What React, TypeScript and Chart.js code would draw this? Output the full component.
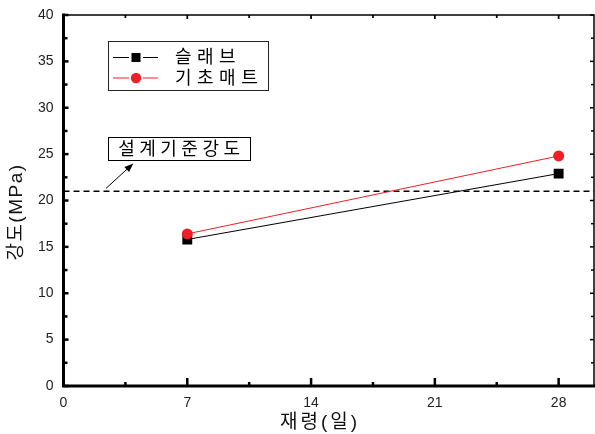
import React, { useEffect, useRef } from "react";
import { Chart, registerables } from "chart.js";

Chart.register(...registerables);

// ---- data ----
const ageDays = [7, 28];
const slabStrength = [15.8, 22.9];
const matStrength = [16.4, 24.8];
const designStrength = 21;
const designLineX = [0, 30];
const xTickValues = [0, 7, 14, 21, 28];
const xMinorValues = [3.5, 10.5, 17.5, 24.5];
const yTickStep = 5;
const seriesLabels = ["슬래브", "기초매트"];
const designLabel = "설계기준강도";
const xTitle = "재령(일)";
const yTitle = "강도(MPa)";

const KFONT = '"Liberation Sans", "Noto Sans CJK KR", sans-serif';
const RED = "#ee1f26";

const overlayPlugin = {
  id: "overlay",
  afterDraw(chart: any) {
    const ctx: CanvasRenderingContext2D = chart.ctx;
    const xs = chart.scales.x;
    const ys = chart.scales.y;
    const { left, right, top, bottom } = chart.chartArea;
    ctx.save();

    // frame
    ctx.strokeStyle = "#000";
    ctx.lineCap = "square";
    ctx.lineWidth = 1.5;
    ctx.beginPath();
    ctx.moveTo(left, top);
    ctx.lineTo(right, top);
    ctx.lineTo(right, bottom);
    ctx.stroke();
    ctx.lineWidth = 3;
    ctx.beginPath();
    ctx.moveTo(left, top);
    ctx.lineTo(left, bottom);
    ctx.lineTo(right, bottom);
    ctx.stroke();

    // inside ticks
    ctx.lineCap = "butt";
    const yMajor: number[] = [];
    const yMinor: number[] = [];
    for (let v = 0; v <= 40; v += yTickStep) {
      yMajor.push(v);
      if (v + yTickStep / 2 < 40) yMinor.push(v + yTickStep / 2);
    }
    const drawX = (vals: number[], len: number, w: number, topLen: number) => {
      vals.forEach((v) => {
        const px = xs.getPixelForValue(v);
        ctx.lineWidth = w;
        ctx.beginPath();
        ctx.moveTo(px, bottom);
        ctx.lineTo(px, bottom - len);
        ctx.stroke();
        ctx.lineWidth = w * 0.7;
        ctx.beginPath();
        ctx.moveTo(px, top);
        ctx.lineTo(px, top + topLen);
        ctx.stroke();
      });
    };
    const drawY = (vals: number[], len: number, w: number, rLen: number) => {
      vals.forEach((v) => {
        const py = ys.getPixelForValue(v);
        ctx.lineWidth = w;
        ctx.beginPath();
        ctx.moveTo(left, py);
        ctx.lineTo(left + len, py);
        ctx.stroke();
        ctx.lineWidth = w * 0.6;
        ctx.beginPath();
        ctx.moveTo(right, py);
        ctx.lineTo(right - rLen, py);
        ctx.stroke();
      });
    };
    drawX(xTickValues, 8, 2.5, 4);
    drawX(xMinorValues, 4, 2.5, 3);
    drawY(yMajor, 5, 2.5, 4);
    drawY(yMinor, 4, 2.5, 3);

    // legend
    ctx.lineWidth = 1;
    ctx.strokeStyle = "#222";
    ctx.strokeRect(108.5, 41.5, 160, 49);
    const rows = [
      { y: 57.5, color: "#000", shape: "rect" },
      { y: 78, color: RED, shape: "circle" },
    ];
    rows.forEach((r, i) => {
      ctx.strokeStyle = r.color;
      ctx.lineWidth = 1;
      ctx.beginPath();
      ctx.moveTo(113, r.y);
      ctx.lineTo(129, r.y);
      ctx.moveTo(143, r.y);
      ctx.lineTo(158, r.y);
      ctx.stroke();
      ctx.fillStyle = r.color;
      if (r.shape === "rect") {
        ctx.fillRect(131.5, r.y - 4.5, 9, 9);
      } else {
        ctx.beginPath();
        ctx.arc(136, r.y, 5.2, 0, Math.PI * 2);
        ctx.fill();
      }
      ctx.fillStyle = "#000";
      ctx.font = `18px ${KFONT}`;
      (ctx as any).letterSpacing = "5.5px";
      ctx.textAlign = "left";
      ctx.textBaseline = "middle";
      ctx.fillText(seriesLabels[i], 175, r.y + 1);
    });

    // design strength annotation
    const bx = xs.getPixelForValue(6.55);
    const by = ys.getPixelForValue(25.6);
    ctx.strokeStyle = "#000";
    ctx.lineWidth = 1;
    ctx.strokeRect(Math.round(bx - 71) + 0.5, Math.round(by - 11.5) + 0.5, 142, 23);
    ctx.font = `18px ${KFONT}`;
    (ctx as any).letterSpacing = "4.5px";
    ctx.textAlign = "center";
    ctx.fillText(designLabel, bx + 2, by + 1);

    // arrow
    const ax0 = xs.getPixelForValue(2.4);
    const ay0 = ys.getPixelForValue(21.3);
    const ax1 = xs.getPixelForValue(3.95);
    const ay1 = ys.getPixelForValue(24.0);
    const ang = Math.atan2(ay1 - ay0, ax1 - ax0);
    ctx.beginPath();
    ctx.moveTo(ax0, ay0);
    ctx.lineTo(ax1 - 6 * Math.cos(ang), ay1 - 6 * Math.sin(ang));
    ctx.stroke();
    ctx.beginPath();
    ctx.moveTo(ax1, ay1);
    ctx.lineTo(ax1 - 9 * Math.cos(ang) + 3.5 * Math.sin(ang), ay1 - 9 * Math.sin(ang) - 3.5 * Math.cos(ang));
    ctx.lineTo(ax1 - 9 * Math.cos(ang) - 3.5 * Math.sin(ang), ay1 - 9 * Math.sin(ang) + 3.5 * Math.cos(ang));
    ctx.closePath();
    ctx.fill();

    // axis titles
    ctx.fillStyle = "#111";
    ctx.font = `19px ${KFONT}`;
    (ctx as any).letterSpacing = "3px";
    ctx.textAlign = "center";
    ctx.textBaseline = "middle";
    ctx.fillText(xTitle, 320, 423);
    ctx.save();
    ctx.translate(17, 212);
    ctx.rotate(-Math.PI / 2);
    (ctx as any).letterSpacing = "1.5px";
    ctx.fillText(yTitle, 0, 0);
    ctx.restore();

    ctx.restore();
  },
};

export default function App() {
  const ref = useRef<HTMLCanvasElement>(null);
  useEffect(() => {
    if (!ref.current) return;
    const chart = new Chart(ref.current, {
      type: "line",
      data: {
        datasets: [
          {
            label: "design",
            data: designLineX.map((x) => ({ x, y: designStrength })),
            borderColor: "#000",
            borderWidth: 1.5,
            borderDash: [6, 4],
            pointRadius: 0,
            order: 3,
          },
          {
            label: seriesLabels[0],
            data: ageDays.map((x, i) => ({ x, y: slabStrength[i] })),
            borderColor: "#000",
            backgroundColor: "#000",
            borderWidth: 1,
            pointStyle: "rect",
            pointRadius: 7,
            pointBorderWidth: 0,
            order: 2,
          },
          {
            label: seriesLabels[1],
            data: ageDays.map((x, i) => ({ x, y: matStrength[i] })),
            borderColor: RED,
            backgroundColor: RED,
            borderWidth: 1,
            pointStyle: "circle",
            pointRadius: 5.5,
            pointBorderWidth: 0,
            order: 1,
          },
        ],
      },
      options: {
        animation: false,
        responsive: false,
        devicePixelRatio: 1,
        layout: { autoPadding: false, padding: { left: 0, right: 1, top: 15, bottom: 0 } },
        plugins: { legend: { display: false }, tooltip: { enabled: false } },
        scales: {
          x: {
            type: "linear",
            min: 0,
            max: 30,
            grid: { display: false, drawTicks: false },
            border: { display: false },
            ticks: {
              padding: 9,
              color: "#222",
              font: { family: '"Liberation Sans", Arial, sans-serif', size: 14 },
            },
            afterBuildTicks: (s: any) => {
              s.ticks = xTickValues.map((v) => ({ value: v }));
            },
            afterFit: (s: any) => {
              s.height = 48;
              s.paddingLeft = 0;
              s.paddingRight = 0;
            },
          },
          y: {
            min: 0,
            max: 40,
            grid: { display: false, drawTicks: false },
            border: { display: false },
            ticks: {
              stepSize: yTickStep,
              padding: 10,
              color: "#222",
              font: { family: '"Liberation Sans", Arial, sans-serif', size: 14 },
            },
            afterFit: (s: any) => {
              s.width = 63.5;
              s.paddingTop = 0;
              s.paddingBottom = 0;
            },
          },
        },
      },
      plugins: [overlayPlugin],
    } as any);
    return () => chart.destroy();
  }, []);
  return (
    <div style={{ position: "absolute", left: 0, top: 0, width: 595, height: 434, background: "#fff" }}>
      <canvas ref={ref} width={595} height={434} style={{ display: "block" }} />
    </div>
  );
}
